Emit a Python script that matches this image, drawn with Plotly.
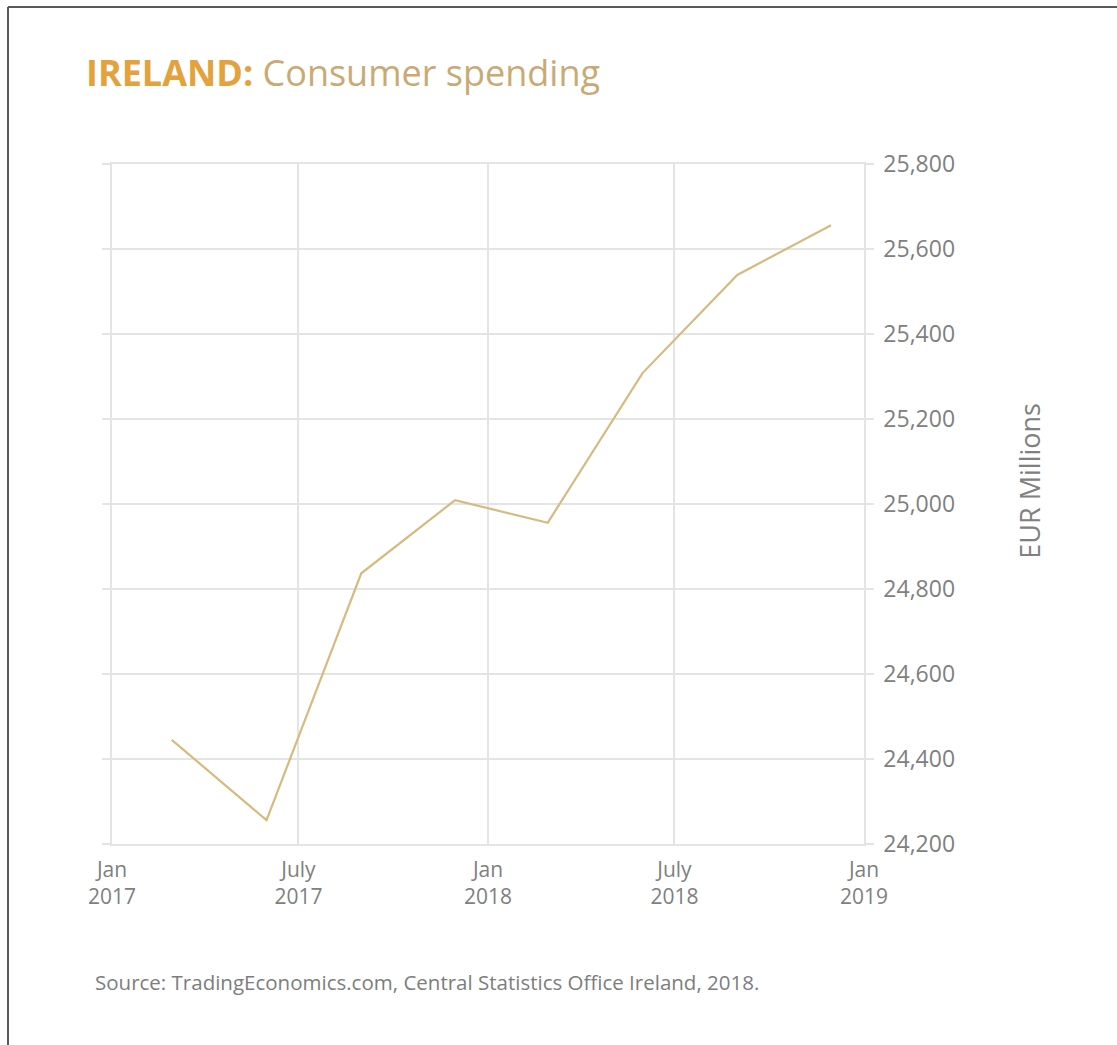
import plotly.graph_objects as go

# Quarterly consumer spending, Ireland (EUR millions)
dates = ["2017-02-28", "2017-05-31", "2017-08-31", "2017-11-30",
         "2018-02-28", "2018-05-31", "2018-08-31", "2018-11-30"]
spending = [24445, 24256, 24837, 25009, 24956, 25308, 25539, 25656]

x_tick_vals = ["2017-01-01", "2017-07-01", "2018-01-01", "2018-07-01", "2019-01-01"]
x_tick_text = ["Jan<br>2017", "July<br>2017", "Jan<br>2018", "July<br>2018", "Jan<br>2019"]
y_tick_vals = [24200, 24400, 24600, 24800, 25000, 25200, 25400, 25600, 25800]

GRID = "#e4e4e4"
TEXT = "#808080"
FONT = "Open Sans"

fig = go.Figure()
fig.add_trace(go.Scatter(
    x=dates, y=spending, mode="lines",
    line=dict(color="#d6bb80", width=2.2),
    hoverinfo="skip", showlegend=False,
))

fig.update_layout(
    width=1117, height=1045,
    margin=dict(l=112, r=253, t=164, b=201),
    paper_bgcolor="white", plot_bgcolor="white",
    font=dict(family=FONT, color=TEXT),
    xaxis=dict(
        range=["2017-01-01", "2019-01-01"],
        tickmode="array", tickvals=x_tick_vals, ticktext=x_tick_text,
        showgrid=True, gridcolor=GRID, gridwidth=1.5,
        showline=True, linecolor=GRID, linewidth=1.5, mirror=True,
        ticks="", tickfont=dict(size=21, color=TEXT), ticklabelstandoff=6,
        zeroline=False, fixedrange=True,
    ),
    yaxis=dict(
        side="right", range=[24200, 25800],
        tickmode="array", tickvals=y_tick_vals, tickformat=",",
        showgrid=True, gridcolor=GRID, gridwidth=1.5,
        showline=True, linecolor=GRID, linewidth=1.5, mirror="ticks",
        ticks="outside", ticklen=8, tickcolor=GRID, tickwidth=1.5,
        tickfont=dict(size=23, color=TEXT), ticklabelstandoff=5,
        zeroline=False, fixedrange=True,
    ),
    annotations=[
        dict(xref="paper", yref="paper", x=-0.0375, y=1.135, xanchor="left", yanchor="middle",
             text="<b><span style='color:#e3a23b'>IRELAND:</span></b>"
                  "<span style='color:#c9aa74'> Consumer spending</span>",
             showarrow=False, font=dict(size=36, family=FONT)),
        dict(xref="paper", yref="paper", x=1.22, y=0.535, xanchor="center", yanchor="middle",
             text="EUR Millions", textangle=-90,
             showarrow=False, font=dict(size=27, color=TEXT, family=FONT)),
        dict(xref="paper", yref="paper", x=-0.025, y=-0.203, xanchor="left", yanchor="middle",
             text="Source: TradingEconomics.com, Central Statistics Office Ireland, 2018.",
             showarrow=False, font=dict(size=20.5, color="#7d7d7d", family=FONT)),
    ],
)

# Thin dark frame along the top and left edges of the page
frame_x = -104 / 752
frame_y = 1 + 157 / 680
fig.add_shape(type="line", xref="paper", yref="paper",
              x0=frame_x, x1=1.5, y0=frame_y, y1=frame_y,
              line=dict(color="#5a5a5a", width=2))
fig.add_shape(type="line", xref="paper", yref="paper",
              x0=frame_x, x1=frame_x, y0=-0.4, y1=frame_y,
              line=dict(color="#5a5a5a", width=2))

fig.write_html("out.html")
